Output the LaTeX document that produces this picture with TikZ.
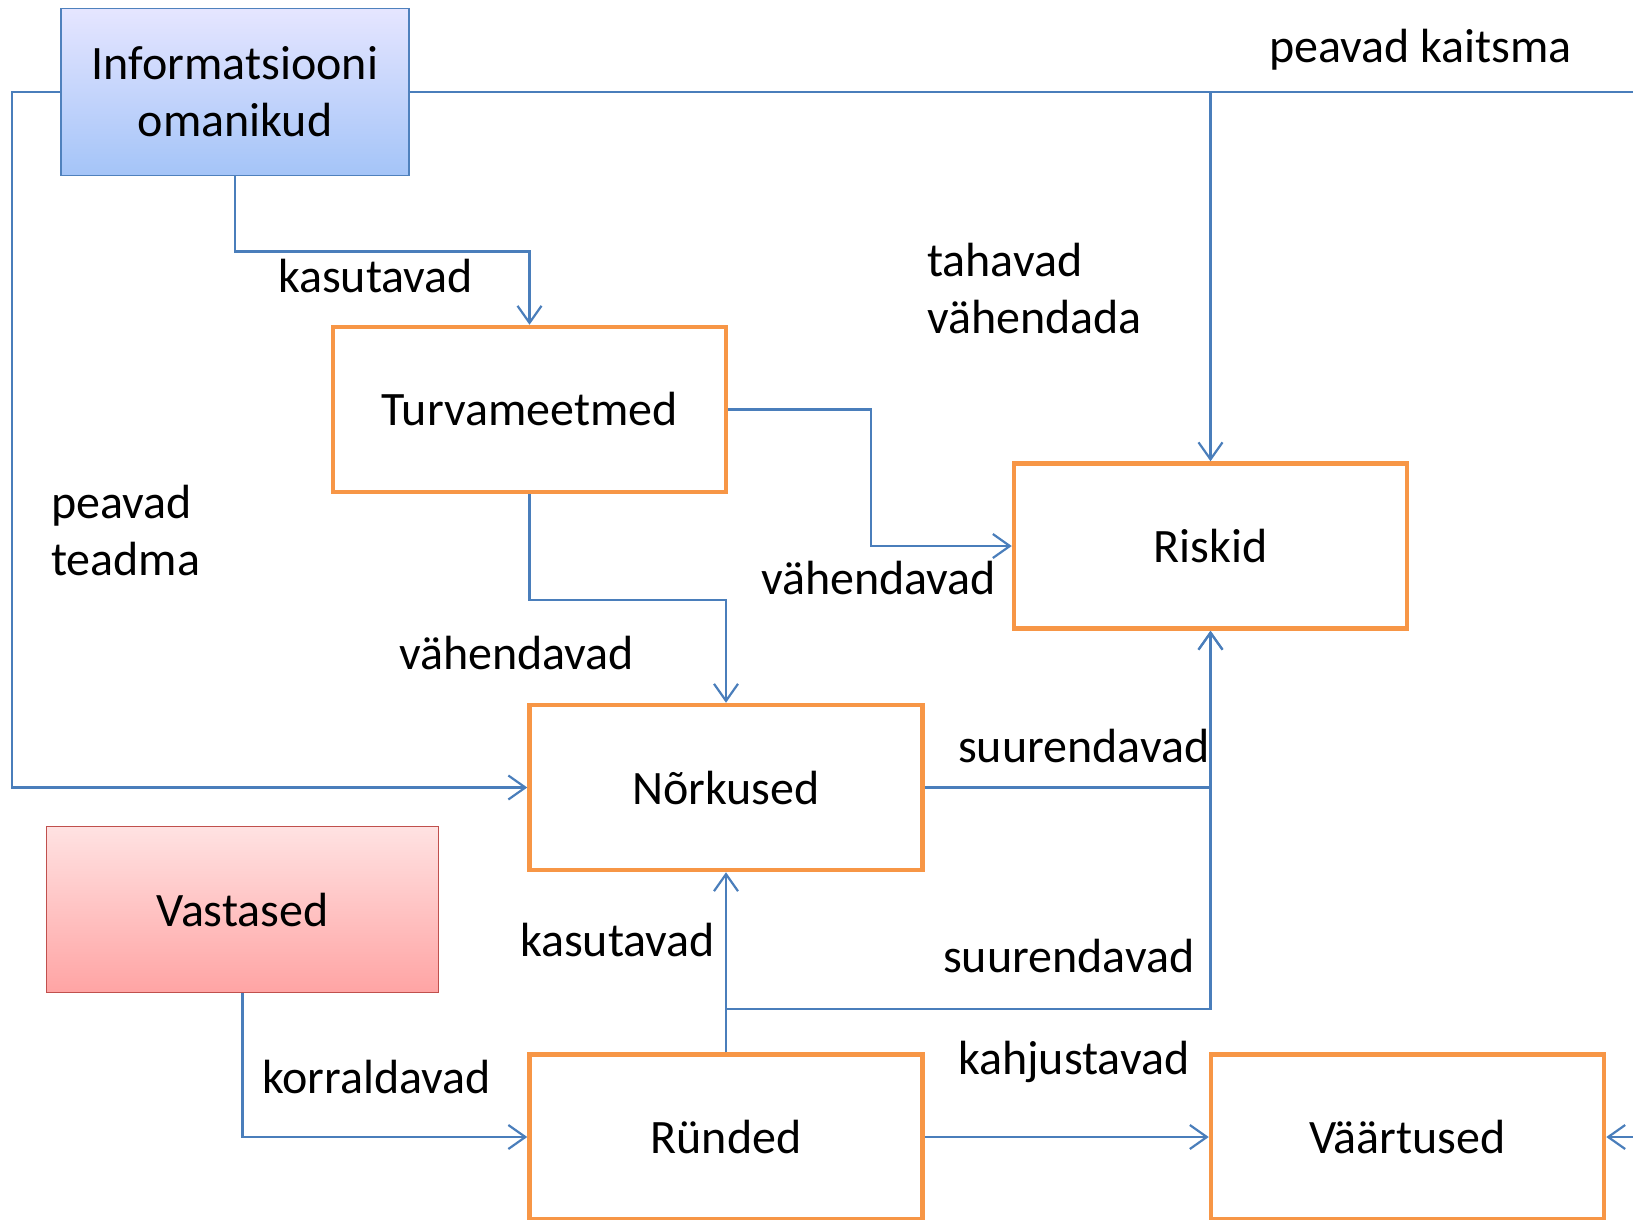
\documentclass[tikz,border=0pt]{standalone}
\usepackage{fontspec}
\setmainfont{Carlito}
\usetikzlibrary{positioning,arrows.meta}
\definecolor{linkblue}{HTML}{4A7EBB}
\definecolor{boxorange}{HTML}{F79646}
\definecolor{infoline}{HTML}{4F81BD}
\definecolor{foeline}{HTML}{C0504D}

\begin{document}
\begin{tikzpicture}[
  x=1pt, y=-1pt,
  every node/.style={font=\fontsize{48}{57}\selectfont},
  orangebox/.style={draw=boxorange, line width=4.5pt, rectangle, minimum width=393pt, minimum height=165pt, align=center},
  infobox/.style={draw=infoline, line width=1.8pt, rectangle, minimum width=348pt, minimum height=167pt, align=center, top color=blue!10!white, bottom color={rgb,255:red,164;green,196;blue,248}},
  foebox/.style={draw=foeline, line width=1.8pt, rectangle, minimum width=392pt, minimum height=166pt, align=center, top color={rgb,255:red,255;green,226;blue,226}, bottom color={rgb,255:red,255;green,164;blue,164}},
  link/.style={draw=linkblue, line width=2.4pt},
  linkarrow/.style={link, -{Straight Barb[length=17pt, width=24pt, line width=2.2pt]}},
  note/.style={anchor=west, inner sep=0pt, align=left},
]
\useasboundingbox (0,0) rectangle (1633,1219);

% boxes
\node[infobox] (info) at (235,92) {Informatsiooni\\omanikud};
\node[orangebox] (turva) at (529.5,409.5) {Turvameetmed};
\node[orangebox] (risk) at (1210.5,546) {Riskid};
\node[orangebox] (nork) at (726,787.5) {Nõrkused};
\node[foebox] (vast) at (242.5,909.5) {Vastased};
\node[orangebox] (rund) at (726,1137) {Ründed};
\node[orangebox] (vaar) at (1407.5,1137) {Väärtused};
\coordinate (kaitse) at (1633,92);
\coordinate (vaarin) at (1633,1137);

% connectors
\draw[linkarrow] (info.west) -- ++(-48,0) |- (nork.west);
\draw[link] (info.east) -- (kaitse);
\draw[linkarrow] (risk.north |- info.east) -- (risk.north);
\draw[linkarrow] (vaarin) -- (vaar.east);
\draw[linkarrow] (info.south) -- ++(0,75) -| (turva.north);
\draw[linkarrow] (turva.east) -- ++(143,0) |- (risk.west);
\draw[linkarrow] (turva.south) -- ++(0,106) -| (nork.north);
\draw[linkarrow] (nork.east) -| (risk.south);
\draw[linkarrow] (rund.north) -- (nork.south);
\draw[linkarrow] (rund.north) -- ++(0,-43) -| (risk.south);
\draw[linkarrow] (vast.south) |- (rund.west);
\draw[linkarrow] (rund.east) -- (vaar.west);

% labels
\node[note] (lkaitse) at (1269,50) {peavad kaitsma};
\node[note] (lkasut1) at (278,276) {kasutavad};
\node[note] (ltahavad) at (927,289) {tahavad\\vähendada};
\node[note] (lteadma) at (51,531) {peavad\\teadma};
\node[note] (lvahend1) at (761,578) {vähendavad};
\node[note] (lvahend2) at (399,653) {vähendavad};
\node[note] (lsuur1) at (958,746) {suurendavad};
\node[note] (lkasut2) at (520,940) {kasutavad};
\node[note] (lsuur2) at (943,956) {suurendavad};
\node[note] (lkahju) at (958,1062) {kahjustavad};
\node[note] (lkorr) at (262,1077) {korraldavad};
\end{tikzpicture}
\end{document}
